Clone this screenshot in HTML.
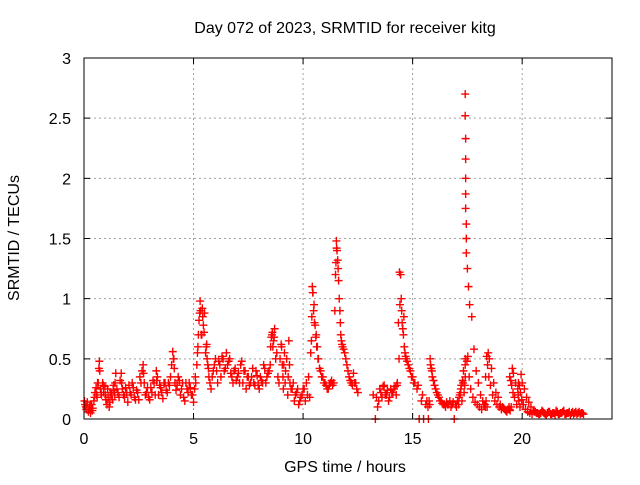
<!DOCTYPE html>
<html><head><meta charset="utf-8"><style>
body{margin:0;background:#fff;}
svg text{font-family:"Liberation Sans",sans-serif;font-size:16px;fill:#000;}
</style></head><body>
<svg id="chart" width="640" height="480" viewBox="0 0 640 480" xmlns="http://www.w3.org/2000/svg">
<rect width="640" height="480" fill="#fff"/>
<text x="345" y="33" text-anchor="middle">Day 072 of 2023, SRMTID for receiver kitg</text>
<g id="grid"></g>
<g id="ticks"></g>
<g id="marks"></g>
<rect x="84" y="58" width="528" height="361" fill="none" stroke="#000" stroke-width="1"/>
<text x="345" y="472" text-anchor="middle">GPS time / hours</text>
<text x="19" y="238" text-anchor="middle" transform="rotate(-90 19 238)">SRMTID / TECUs</text>
</svg>
<script>
const xTicks=[0,5,10,15,20];
const yTicks=[0,0.5,1,1.5,2,2.5,3];
const yTickLabels=["0","0.5","1","1.5","2","2.5","3"];
const times=[0.02,0.05,0.1,0.15,0.2,0.25,0.3,0.35,0.4,0.45,0.5,0.55,0.6,0.65,0.7,0.72,0.75,0.8,0.85,0.9,0.95,1.0,1.05,1.1,1.15,1.2,1.3,1.35,1.4,1.45,1.5,1.6,1.7,1.72,1.8,1.9,2.0,2.1,2.2,2.3,2.4,2.5,2.6,2.7,2.72,2.8,2.9,3.0,3.1,3.2,3.3,3.32,3.4,3.5,3.6,3.7,3.8,3.9,4.0,4.05,4.1,4.15,4.2,4.3,4.4,4.5,4.6,4.7,4.8,4.9,5.0,5.05,5.1,5.15,5.2,5.25,5.3,5.32,5.35,5.4,5.45,5.5,5.55,5.6,5.65,5.7,5.8,5.9,6.0,6.1,6.2,6.3,6.4,6.5,6.6,6.7,6.8,6.9,7.0,7.1,7.2,7.3,7.4,7.5,7.6,7.7,7.8,7.9,8.0,8.1,8.2,8.3,8.4,8.5,8.55,8.6,8.65,8.7,8.8,8.9,9.0,9.05,9.1,9.15,9.2,9.3,9.35,9.4,9.5,9.6,9.7,9.8,9.9,10.0,10.1,10.2,10.3,10.35,10.4,10.42,10.45,10.5,10.55,10.6,10.65,10.7,10.8,10.9,11.0,11.1,11.2,11.3,11.4,11.45,11.5,11.52,11.55,11.6,11.65,11.7,11.75,11.8,11.9,12.0,12.1,12.2,12.3,12.4,12.5,13.2,13.3,13.4,13.5,13.6,13.7,13.8,13.9,14.0,14.1,14.2,14.25,14.3,14.35,14.4,14.45,14.5,14.55,14.6,14.65,14.7,14.8,14.9,15.0,15.1,15.2,15.3,15.4,15.5,15.6,15.7,15.72,15.75,15.8,15.85,15.9,16.0,16.1,16.2,16.3,16.4,16.5,16.6,16.7,16.8,16.9,17.0,17.1,17.15,17.2,17.25,17.3,17.35,17.38,17.4,17.4,17.4,17.4,17.4,17.42,17.42,17.42,17.42,17.42,17.45,17.45,17.45,17.5,17.55,17.6,17.7,17.8,17.9,18.0,18.1,18.2,18.3,18.32,18.35,18.4,18.45,18.5,18.6,18.7,18.8,18.9,19.0,19.1,19.2,19.3,19.4,19.42,19.45,19.5,19.55,19.6,19.7,19.8,19.82,19.85,19.9,19.95,20.0,20.1,20.2,20.3,20.4,20.5,20.6,20.7,20.8,20.9,21.0,21.1,21.2,21.3,21.4,21.5,21.6,21.7,21.8,21.9,22.0,22.1,22.2,22.3,22.4,22.5,22.6,22.7,22.8];
const values=[0.15,0.12,0.08,0.14,0.06,0.1,0.05,0.12,0.09,0.15,0.22,0.26,0.18,0.3,0.48,0.4,0.25,0.2,0.3,0.22,0.27,0.16,0.12,0.18,0.1,0.22,0.16,0.28,0.2,0.38,0.25,0.18,0.38,0.3,0.2,0.26,0.14,0.22,0.3,0.18,0.24,0.16,0.3,0.45,0.38,0.2,0.26,0.16,0.22,0.3,0.4,0.32,0.2,0.26,0.17,0.3,0.22,0.28,0.45,0.56,0.5,0.3,0.24,0.35,0.2,0.3,0.15,0.25,0.3,0.2,0.14,0.25,0.3,0.45,0.6,0.82,0.98,0.9,0.7,0.92,0.78,0.88,0.55,0.62,0.45,0.35,0.25,0.4,0.5,0.3,0.45,0.52,0.4,0.55,0.48,0.38,0.3,0.42,0.35,0.3,0.48,0.4,0.25,0.35,0.3,0.42,0.28,0.36,0.25,0.32,0.45,0.3,0.38,0.45,0.68,0.72,0.65,0.75,0.55,0.3,0.62,0.45,0.25,0.55,0.4,0.2,0.65,0.3,0.25,0.15,0.22,0.12,0.18,0.25,0.15,0.2,0.18,0.55,0.85,1.1,1.05,0.95,0.78,0.7,0.6,0.5,0.4,0.35,0.3,0.25,0.28,0.32,0.3,0.9,1.3,1.48,1.4,1.25,1.0,0.8,0.65,0.6,0.55,0.45,0.35,0.3,0.38,0.3,0.22,0.2,0.0,0.1,0.25,0.18,0.28,0.2,0.15,0.25,0.22,0.27,0.2,0.3,0.8,1.22,1.2,0.9,0.75,0.85,0.55,0.5,0.45,0.4,0.35,0.3,0.25,0.0,0.15,0.0,0.12,0.1,0.0,0.15,0.5,0.42,0.35,0.28,0.22,0.18,0.15,0.12,0.1,0.12,0.15,0.12,0.0,0.1,0.12,0.2,0.25,0.15,0.3,0.22,0.28,0.35,0.45,0.5,2.7,2.52,2.33,2.16,2.0,1.87,1.75,1.62,1.5,1.38,1.25,1.1,0.95,0.85,0.58,0.4,0.3,0.2,0.15,0.12,0.1,0.15,0.1,0.55,0.5,0.42,0.3,0.22,0.18,0.12,0.1,0.08,0.06,0.1,0.08,0.07,0.1,0.42,0.38,0.3,0.25,0.2,0.15,0.1,0.37,0.3,0.25,0.18,0.14,0.1,0.07,0.06,0.05,0.04,0.07,0.05,0.03,0.06,0.04,0.05,0.03,0.06,0.04,0.05,0.07,0.04,0.05,0.03,0.06,0.05,0.04,0.06,0.05,0.04,0.06,0.05,0.04,0.05];
const times2=[0.08,0.18,0.28,0.38,0.48,0.58,0.62,0.68,0.78,0.88,0.98,1.08,1.18,1.25,1.33,1.42,1.55,1.65,1.75,1.85,1.95,2.05,2.15,2.25,2.35,2.45,2.55,2.65,2.75,2.85,2.95,3.05,3.15,3.25,3.35,3.45,3.55,3.65,3.75,3.85,3.95,4.08,4.12,4.25,4.35,4.45,4.55,4.65,4.75,4.85,4.95,5.08,5.18,5.22,5.28,5.38,5.42,5.48,5.58,5.62,5.68,5.75,5.85,5.95,6.05,6.15,6.25,6.35,6.45,6.55,6.65,6.75,6.85,6.95,7.05,7.15,7.25,7.35,7.45,7.55,7.65,7.75,7.85,7.95,8.05,8.15,8.25,8.35,8.45,8.52,8.58,8.62,8.68,8.75,8.85,8.95,9.02,9.08,9.12,9.18,9.25,9.32,9.38,9.45,9.55,9.65,9.75,9.85,9.95,10.05,10.15,10.25,10.38,10.44,10.48,10.52,10.58,10.62,10.68,10.75,10.85,10.95,11.05,11.15,11.25,11.35,11.48,11.53,11.58,11.62,11.68,11.72,11.78,11.85,11.95,12.05,12.15,12.25,12.35,12.45,13.35,13.45,13.55,13.65,13.75,13.85,13.95,14.05,14.15,14.28,14.38,14.42,14.48,14.52,14.58,14.62,14.68,14.75,14.85,14.95,15.05,15.25,15.45,15.65,15.78,15.82,15.88,15.95,16.05,16.15,16.25,16.35,16.45,16.55,16.65,16.75,16.85,16.95,17.05,17.12,17.18,17.22,17.28,17.32,17.48,17.52,17.58,17.65,17.75,17.85,17.95,18.05,18.15,18.25,18.33,18.38,18.42,18.48,18.55,18.65,18.75,18.85,18.95,19.05,19.15,19.25,19.35,19.43,19.48,19.52,19.58,19.65,19.75,19.83,19.88,19.92,19.98,20.05,20.15,20.25,20.35,20.45,20.55,20.65,20.75,20.85,20.95,21.05,21.15,21.25,21.35,21.45,21.55,21.65,21.75,21.85,21.95,22.05,22.15,22.25,22.35,22.45,22.55,22.65,22.75];
const values2=[0.1,0.08,0.12,0.07,0.18,0.2,0.3,0.42,0.22,0.28,0.2,0.25,0.14,0.2,0.24,0.3,0.22,0.32,0.25,0.18,0.22,0.28,0.2,0.26,0.16,0.22,0.35,0.4,0.3,0.22,0.18,0.26,0.32,0.2,0.35,0.28,0.22,0.3,0.24,0.3,0.35,0.5,0.42,0.28,0.32,0.25,0.18,0.3,0.22,0.26,0.2,0.35,0.55,0.7,0.88,0.7,0.85,0.72,0.6,0.5,0.42,0.3,0.35,0.45,0.4,0.48,0.35,0.5,0.42,0.45,0.5,0.35,0.4,0.32,0.38,0.45,0.3,0.4,0.35,0.28,0.35,0.3,0.4,0.28,0.35,0.3,0.42,0.35,0.4,0.6,0.7,0.6,0.68,0.5,0.35,0.5,0.6,0.35,0.45,0.3,0.5,0.35,0.45,0.25,0.3,0.2,0.25,0.15,0.2,0.25,0.3,0.35,0.65,1.05,0.9,0.8,0.68,0.6,0.5,0.42,0.35,0.3,0.28,0.25,0.3,0.28,1.2,1.42,1.32,1.15,0.9,0.7,0.62,0.58,0.5,0.4,0.32,0.28,0.3,0.25,0.18,0.15,0.22,0.27,0.2,0.24,0.18,0.22,0.25,0.28,0.5,0.95,1.0,0.8,0.7,0.6,0.52,0.48,0.42,0.35,0.3,0.28,0.2,0.15,0.12,0.45,0.4,0.32,0.25,0.2,0.15,0.13,0.12,0.14,0.12,0.1,0.14,0.12,0.15,0.18,0.22,0.28,0.32,0.4,0.48,0.52,0.35,0.25,0.18,0.14,0.12,0.1,0.08,0.12,0.35,0.52,0.45,0.35,0.28,0.2,0.15,0.12,0.1,0.08,0.09,0.07,0.08,0.35,0.32,0.28,0.22,0.18,0.12,0.3,0.28,0.22,0.16,0.12,0.08,0.06,0.05,0.04,0.06,0.05,0.04,0.05,0.06,0.04,0.05,0.06,0.04,0.05,0.07,0.04,0.05,0.06,0.04,0.05,0.06,0.05,0.04,0.06,0.05,0.04,0.05];
const NS="http://www.w3.org/2000/svg";
const L=84,R=612,T=58,B=419,XMAX=24.1,YMAX=3;
function xs(t){return L+(R-L)*t/XMAX;}
function ys(v){return B-(B-T)*v/YMAX;}
const grid=document.getElementById('grid'),ticks=document.getElementById('ticks'),marks=document.getElementById('marks');
xTicks.forEach(t=>{
 const x=xs(t);
 if(t>0){const g=document.createElementNS(NS,'line');
 
 
 g.setAttribute('x1',x);g.setAttribute('x2',x);g.setAttribute('y1',T);g.setAttribute('y2',B);
 g.setAttribute('stroke','#a0a0a0');g.setAttribute('stroke-dasharray','2,3');grid.appendChild(g);}
 const k=document.createElementNS(NS,'path');
 
 
 k.setAttribute('d',`M${x},${B}v-6M${x},${T}v6`);k.setAttribute('stroke','#000');ticks.appendChild(k);
 const tx=document.createElementNS(NS,'text');
 
 
 tx.setAttribute('x',x);tx.setAttribute('y',444);tx.setAttribute('text-anchor','middle');tx.textContent=t;ticks.appendChild(tx);
});
yTicks.forEach((v,i)=>{
 const y=ys(v);
 if(v>0&&v<YMAX){const g=document.createElementNS(NS,'line');
 
 
 g.setAttribute('x1',L);g.setAttribute('x2',R);g.setAttribute('y1',y);g.setAttribute('y2',y);
 g.setAttribute('stroke','#a0a0a0');g.setAttribute('stroke-dasharray','2,3');grid.appendChild(g);}
 const k=document.createElementNS(NS,'path');
 
 
 k.setAttribute('d',`M${L},${y}h6M${R},${y}h-6`);k.setAttribute('stroke','#000');ticks.appendChild(k);
 const tx=document.createElementNS(NS,'text');
 
 
 tx.setAttribute('x',71);tx.setAttribute('y',y+6);tx.setAttribute('text-anchor','end');tx.textContent=yTickLabels[i];ticks.appendChild(tx);
});
let d='';
function addPts(ts,vs){ts.forEach((t,i)=>{const x=xs(t),y=ys(vs[i]);d+=`M${x-4},${y}h8M${x},${y-4}v8`;});}
addPts(times,values);
addPts(times2,values2);
const p=document.createElementNS(NS,'path');


p.setAttribute('d',d);p.setAttribute('stroke','#ff0000');p.setAttribute('stroke-width','1.4');p.setAttribute('fill','none');
marks.appendChild(p);
</script>
</body></html>
